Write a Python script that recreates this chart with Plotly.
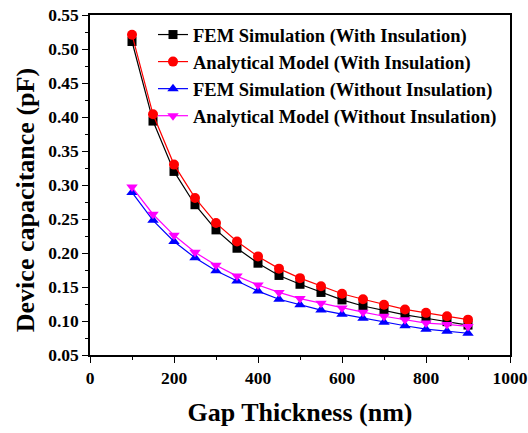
import plotly.graph_objects as go

gap_nm = [100, 150, 200, 250, 300, 350, 400, 450, 500, 550, 600, 650, 700, 750, 800, 850, 900]
fem_with = [0.511, 0.394, 0.320, 0.271, 0.234, 0.207, 0.185, 0.167, 0.154, 0.142, 0.131, 0.122, 0.115, 0.109, 0.104, 0.099, 0.094]
ana_with = [0.521, 0.404, 0.330, 0.281, 0.244, 0.217, 0.195, 0.177, 0.163, 0.151, 0.140, 0.132, 0.124, 0.117, 0.112, 0.107, 0.102]
fem_without = [0.289, 0.248, 0.217, 0.193, 0.174, 0.159, 0.144, 0.132, 0.124, 0.116, 0.110, 0.104, 0.098, 0.093, 0.088, 0.085, 0.082]
ana_without = [0.297, 0.257, 0.226, 0.201, 0.182, 0.166, 0.153, 0.142, 0.133, 0.126, 0.119, 0.113, 0.107, 0.102, 0.097, 0.095, 0.092]

names = ["FEM Simulation (With Insulation)", "Analytical Model (With Insulation)",
         "FEM Simulation (Without Insulation)", "Analytical Model (Without Insulation)"]
series = [fem_with, ana_with, fem_without, ana_without]
colors = ["black", "red", "blue", "magenta"]
symbols = ["square", "circle", "triangle-up", "triangle-down"]
x_ticks = [0, 200, 400, 600, 800, 1000]
y_ticks = [0.05, 0.10, 0.15, 0.20, 0.25, 0.30, 0.35, 0.40, 0.45, 0.50, 0.55]
x_title = "Gap Thickness (nm)"
y_title = "Device capacitance (pF)"

FONT = "Liberation Serif"

fig = go.Figure()
for i, (n, s, c, sym) in enumerate(zip(names, series, colors, symbols)):
    fig.add_trace(go.Scatter(
        x=gap_nm, y=s, name=f"<b>{n}</b>", mode="lines+markers",
        line=dict(color=c, width=1.2),
        marker=dict(color=c, symbol=sym, size=10 if sym != "square" else 9),
    ))

axis_common = dict(
    showline=True, linecolor="black", linewidth=1.5, mirror=True,
    ticks="outside", ticklen=6, tickwidth=1, tickcolor="black",
    showgrid=False, zeroline=False, automargin=False,
    tickfont=dict(family=FONT, size=17.5, color="black"),
)

fig.update_layout(
    width=528, height=433,
    margin=dict(l=90, r=18, t=15, b=78),
    paper_bgcolor="white", plot_bgcolor="white",
    font=dict(family=FONT, color="black"),
    xaxis=dict(range=[0, 1000], tickmode="array", tickvals=x_ticks,
               ticktext=[f"<b>{v}</b>" for v in x_ticks],
               minor=dict(dtick=100, ticks="outside", ticklen=3, tickcolor="black"),
               title=dict(text=f"<b>{x_title}</b>", standoff=16,
                          font=dict(family=FONT, size=26, color="black")),
               **axis_common),
    yaxis=dict(range=[0.05, 0.55], tickmode="array", tickvals=y_ticks,
               ticktext=[f"<b>{v:.2f}</b>" for v in y_ticks],
               minor=dict(dtick=0.025, tick0=0.05, ticks="outside", ticklen=3, tickcolor="black"),
               **axis_common),
    annotations=[dict(text=f"<b>{y_title}</b>", textangle=-90,
                      xref="paper", yref="paper", x=-0.155, y=0.455,
                      xanchor="center", yanchor="middle", showarrow=False,
                      font=dict(family=FONT, size=26, color="black"))],
    legend=dict(x=0.15, y=0.997, xanchor="left", yanchor="top",
                bgcolor="rgba(0,0,0,0)", borderwidth=0,
                font=dict(family=FONT, size=18.5, color="black")),
    showlegend=True,
)

fig.write_html("out.html")
